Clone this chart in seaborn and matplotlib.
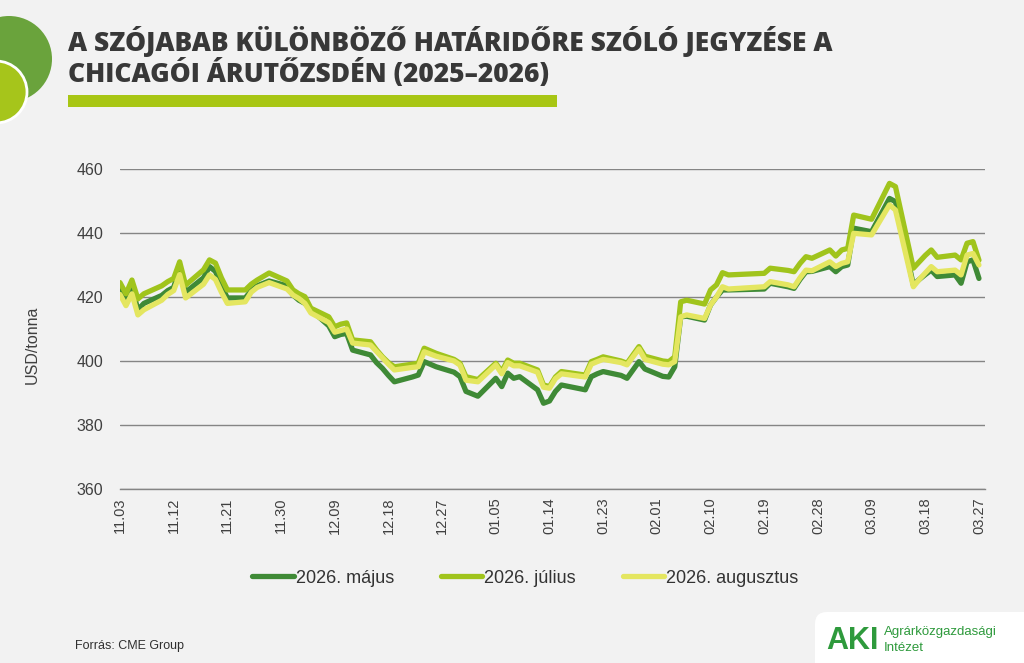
import pandas as pd
import matplotlib
matplotlib.use("Agg")
import matplotlib.pyplot as plt
import matplotlib.dates as mdates
from matplotlib.patches import Circle, Rectangle, FancyBboxPatch
import seaborn as sns

# jegyzési napok (csak a töréspontok) és árak, USD/tonna
dates = ["2025-11-03", "2025-11-04", "2025-11-05", "2025-11-06", "2025-11-07",
         "2025-11-10", "2025-11-11", "2025-11-12", "2025-11-13", "2025-11-14",
         "2025-11-17", "2025-11-18", "2025-11-19", "2025-11-20", "2025-11-21",
         "2025-11-24", "2025-11-25", "2025-11-26", "2025-11-28",
         "2025-12-01", "2025-12-02", "2025-12-03", "2025-12-04", "2025-12-05",
         "2025-12-08", "2025-12-09", "2025-12-10", "2025-12-11", "2025-12-12",
         "2025-12-15", "2025-12-16", "2025-12-17", "2025-12-18", "2025-12-19",
         "2025-12-22", "2025-12-23", "2025-12-24", "2025-12-26", "2025-12-29",
         "2025-12-30", "2025-12-31", "2026-01-02", "2026-01-05", "2026-01-06",
         "2026-01-07", "2026-01-08", "2026-01-09", "2026-01-12", "2026-01-13",
         "2026-01-14", "2026-01-15", "2026-01-16", "2026-01-20", "2026-01-21",
         "2026-01-22", "2026-01-23", "2026-01-26", "2026-01-27", "2026-01-29",
         "2026-01-30", "2026-02-02", "2026-02-03", "2026-02-04", "2026-02-05",
         "2026-02-06", "2026-02-09", "2026-02-10", "2026-02-11", "2026-02-12",
         "2026-02-13", "2026-02-19", "2026-02-20", "2026-02-23", "2026-02-24",
         "2026-02-25", "2026-02-26", "2026-02-27", "2026-03-02", "2026-03-03",
         "2026-03-04", "2026-03-05", "2026-03-06", "2026-03-09", "2026-03-12",
         "2026-03-13", "2026-03-16", "2026-03-17", "2026-03-18", "2026-03-19",
         "2026-03-20", "2026-03-23", "2026-03-24", "2026-03-25", "2026-03-26",
         "2026-03-27"]

majus = [422.5, 418.8, 423.0, 416.0, 418.0,
         420.5, 422.0, 423.0, 429.0, 421.5,
         426.0, 429.5, 428.0, 423.5, 419.7,
         419.7, 422.0, 423.5, 425.0,
         423.5, 420.6, 419.0, 418.0, 416.0,
         411.0, 407.6, 408.3, 408.6, 403.4,
         401.9, 399.5, 397.7, 395.5, 393.5,
         395.0, 395.6, 399.8, 398.2, 396.5,
         395.1, 390.5, 389.0, 394.6, 392.0,
         396.2, 394.6, 395.1, 391.0, 386.8,
         387.5, 390.5, 392.5, 391.0, 395.1,
         396.0, 396.7, 395.5, 394.6, 399.8,
         397.5, 395.2, 395.0, 398.2, 413.8,
         414.0, 412.8, 417.5, 420.0, 422.2,
         422.2, 422.5, 424.3, 423.2, 422.7,
         425.5, 427.9, 428.0, 429.5, 427.9,
         429.5, 430.0, 441.5, 440.4, 450.8,
         449.8, 423.8, 425.5, 427.0, 428.4,
         426.4, 426.9, 424.3, 431.0, 431.6,
         425.8]

julius = [424.5, 421.0, 425.3, 419.4, 421.0,
          423.5, 424.8, 425.8, 431.0, 423.7,
          428.5, 431.6, 430.6, 426.0, 422.2,
          422.2, 424.0, 425.3, 427.5,
          425.0, 422.2, 421.0, 420.1, 416.5,
          413.8, 410.7, 411.5, 411.9, 406.6,
          406.0, 403.5, 401.3, 399.5, 398.2,
          399.0, 399.3, 404.0, 402.4, 400.5,
          399.3, 395.1, 394.2, 399.3, 396.7,
          400.3, 399.3, 399.3, 397.2, 392.5,
          392.0, 395.0, 396.7, 395.6, 399.8,
          400.5, 401.3, 400.0, 399.3, 404.5,
          401.5, 400.0, 399.8, 401.3, 418.5,
          419.0, 417.8, 422.2, 423.8, 427.6,
          426.9, 427.4, 429.0, 428.3, 427.9,
          430.5, 432.6, 432.1, 434.7, 432.8,
          434.7, 435.2, 445.6, 444.3, 455.5,
          454.5, 429.0, 431.0, 433.0, 434.7,
          432.4, 433.1, 431.6, 436.8, 437.3,
          431.5]

augusztus = [420.8, 417.3, 421.0, 414.4, 416.0,
             419.0, 420.8, 422.0, 427.0, 419.7,
             424.0, 426.9, 425.5, 421.5, 418.0,
             418.5, 421.5, 423.0, 424.5,
             422.5, 420.6, 419.5, 418.0, 415.0,
             412.0, 409.0, 409.5, 410.0, 405.6,
             405.0, 403.0, 401.0, 399.0, 397.2,
             398.0, 398.2, 402.9, 401.5, 400.0,
             398.7, 394.0, 393.5, 398.8, 396.0,
             399.5, 398.5, 398.5, 396.5, 391.8,
             391.5, 394.5, 396.0, 395.0, 399.0,
             399.8, 400.5, 399.5, 398.8, 403.8,
             400.5, 399.0, 398.8, 399.8, 413.8,
             414.4, 413.3, 417.5, 420.0, 423.2,
             422.5, 423.2, 424.8, 423.8, 423.2,
             426.0, 428.4, 428.2, 431.0, 429.5,
             430.5, 431.0, 439.9, 439.4, 448.8,
             447.2, 423.2, 425.5, 427.5, 429.5,
             427.9, 428.4, 426.9, 433.1, 433.6,
             430.0]

series = ["2026. május", "2026. július", "2026. augusztus"]
colors = ["#3f8a36", "#a0c41c", "#e4e660"]

tick_dates = pd.date_range("2025-11-03", "2026-03-27", freq="9D")

df = pd.concat([
    pd.DataFrame({"datum": pd.to_datetime(dates), "ar": vals, "lejarat": name})
    for name, vals in zip(series, [majus, julius, augusztus])
])

background = "#f2f2f2"
text_color = "#404040"
grid_color = "#858585"

sns.set_style("white")
plt.rcParams["font.family"] = ["Liberation Sans", "DejaVu Sans"]

fig = plt.figure(figsize=(10.24, 6.63), dpi=100)
fig.set_facecolor(background)
ax = fig.add_axes([120 / 1024, 1 - 489 / 663, 865 / 1024, 320 / 663])
ax.patch.set_facecolor(background)

sns.lineplot(data=df, x="datum", y="ar", hue="lejarat", palette=colors,
             hue_order=series, linewidth=3.8, ax=ax, legend=True, zorder=3)

ax.set_ylim(360, 460)
ax.set_yticks([360, 380, 400, 420, 440, 460])
ax.set_xlim(mdates.date2num(pd.Timestamp("2025-11-03")),
            mdates.date2num(pd.Timestamp("2025-11-03")) + 865 / 5.965)
ax.set_xticks(mdates.date2num(tick_dates))
ax.xaxis.set_major_formatter(mdates.DateFormatter("%m.%d"))
ax.tick_params(axis="x", rotation=90, labelsize=10.5, colors=text_color,
               length=4, width=1, pad=2, direction="out")
ax.tick_params(axis="x", color=grid_color)
ax.tick_params(axis="y", labelsize=11.5, colors=text_color, length=0, pad=12)

ax.grid(axis="y", color=grid_color, lw=1, zorder=1)
ax.grid(axis="x", visible=False)
for s in ["top", "right", "left"]:
    ax.spines[s].set_visible(False)
ax.spines["bottom"].set_color(grid_color)
ax.spines["bottom"].set_linewidth(1)

ax.set_xlabel("")
ax.set_ylabel("USD/tonna", fontsize=11.5, color=text_color)
ax.yaxis.set_label_coords(-80 / 865, 0.45)

handles, labels = ax.get_legend_handles_labels()
ax.get_legend().remove()
fig.legend(handles, labels, loc="center", bbox_to_anchor=(0.513, 0.128), ncol=3,
           frameon=False, fontsize=13, handlelength=2.3, columnspacing=2.6,
           handletextpad=0.1, labelcolor="#333333")

# díszítések: körök, cím, zöld sáv, forrás, logó
deco = fig.add_axes([0, 0, 1, 1], zorder=-1)
deco.set_xlim(0, 1024)
deco.set_ylim(663, 0)
deco.axis("off")
deco.add_patch(Circle((9, 59), 43, color="#6aa33c", lw=0))
deco.add_patch(Circle((-4, 92), 31, facecolor="#a6c51b", edgecolor="white", lw=2))
deco.add_patch(Rectangle((68, 95), 489, 12, color="#a8c614", lw=0))

fig.text(68 / 1024, 1 - 82 / 663,
         "A SZÓJABAB KÜLÖNBÖZŐ HATÁRIDŐRE SZÓLÓ JEGYZÉSE A\nCHICAGÓI ÁRUTŐZSDÉN (2025–2026)",
         family=["Open Sans", "DejaVu Sans"], weight="heavy", fontsize=19,
         color="#383838", va="baseline", linespacing=1.1)

fig.text(75 / 1024, 1 - 646 / 663, "Forrás: CME Group", fontsize=9,
         color="#303030", va="center")

logo = fig.add_axes([0, 0, 1, 1], zorder=5)
logo.set_xlim(0, 1024)
logo.set_ylim(663, 0)
logo.axis("off")
logo.add_patch(FancyBboxPatch((818, 615), 230, 70, boxstyle="round,pad=0,rounding_size=12",
                              facecolor="#d8d8d8", edgecolor="none"))
logo.add_patch(FancyBboxPatch((815, 612), 230, 70, boxstyle="round,pad=0,rounding_size=12",
                              facecolor="white", edgecolor="none"))
logo.text(826, 641, "AKI", fontsize=22, weight="bold", color="#2e9a3c",
          va="center", ha="left", family=["Liberation Sans", "DejaVu Sans"])
logo.text(884, 632, "Agrárközgazdasági", fontsize=9.5, color="#2e9a3c",
          va="center", ha="left")
logo.text(884, 648, "Intézet", fontsize=9.5, color="#2e9a3c",
          va="center", ha="left")

fig.savefig("out.png", dpi=100, facecolor=background)
